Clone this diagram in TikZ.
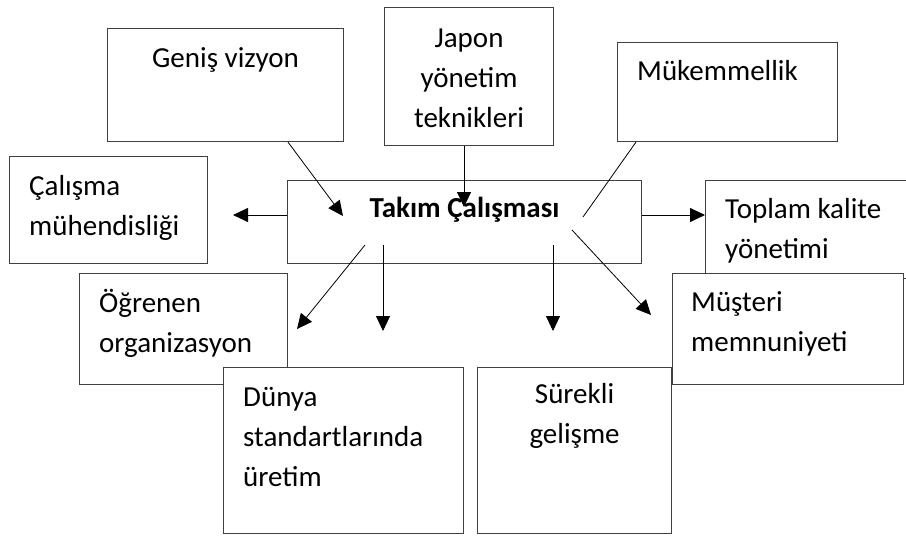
\documentclass[tikz,border=0pt]{standalone}
\usepackage{fontspec}
\setmainfont{Carlito}
\usetikzlibrary{arrows.meta}

\begin{document}
\begin{tikzpicture}[
    x=1pt, y=-1pt,
    kutu/.style={draw=black!75, line width=1.1pt, fill=white, inner sep=0pt, anchor=north west},
    yazi/.style={font=\fontsize{29}{40}\selectfont, inner sep=0pt},
    ok/.style={-{Triangle[length=15pt,width=14pt]}, line width=0.8pt},
    cizgi/.style={line width=0.8pt}
]
\clip (0,0) rectangle (906,538);
\fill[white] (0,0) rectangle (906,538);

\node[kutu, minimum width=236pt, minimum height=113pt] (genis) at (107,28) {};
\node[yazi, anchor=base, yshift=-39pt] (genisYazi) at (genis.north) {Geniş vizyon};

\node[kutu, minimum width=169pt, minimum height=138pt] (japon) at (384,7) {};
\node[yazi, align=center, anchor=base, yshift=-120pt] (japonYazi) at (japon.north) {Japon\\yönetim\\teknikleri};

\node[kutu, minimum width=220pt, minimum height=99pt] (mukemmel) at (617,42) {};
\node[yazi, anchor=base west, xshift=20pt, yshift=-38pt] (mukemmelYazi) at (mukemmel.north west) {Mükemmellik};

\node[kutu, minimum width=198pt, minimum height=107pt] (calisma) at (9,156) {};
\node[yazi, align=left, anchor=base west, xshift=20pt, yshift=-79pt] (calismaYazi) at (calisma.north west) {Çalışma\\mühendisliği};

\node[kutu, minimum width=354pt, minimum height=83pt] (takim) at (287,180) {};
\node[yazi, font=\fontsize{29}{40}\selectfont\bfseries, anchor=base, yshift=-37pt] (takimYazi) at (takim.north) {Takım Çalışması};

\node[kutu, minimum width=207pt, minimum height=98pt] (toplam) at (705,180) {};
\node[yazi, align=left, anchor=base west, xshift=20pt, yshift=-78pt] (toplamYazi) at (toplam.north west) {Toplam kalite\\yönetimi};

\node[kutu, minimum width=231pt, minimum height=111pt] (musteri) at (672,273) {};
\node[yazi, align=left, anchor=base west, xshift=19pt, yshift=-78pt] (musteriYazi) at (musteri.north west) {Müşteri\\memnuniyeti};

\node[kutu, minimum width=208pt, minimum height=111pt] (ogrenen) at (79,273) {};
\node[yazi, align=left, anchor=base west, xshift=20pt, yshift=-79pt] (ogrenenYazi) at (ogrenen.north west) {Öğrenen\\organizasyon};

\node[kutu, minimum width=240pt, minimum height=166pt] (dunya) at (223,367) {};
\node[yazi, align=left, anchor=base west, xshift=20pt, yshift=-119pt] (dunyaYazi) at (dunya.north west) {Dünya\\standartlarında\\üretim};

\node[kutu, minimum width=194pt, minimum height=166pt] (surekli) at (477,367) {};
\node[yazi, align=center, anchor=base, yshift=-76pt] (surekliYazi) at (surekli.north) {Sürekli\\gelişme};

\coordinate (genisUc) at (343,216);
\coordinate (japonUc) at (464,207);
\coordinate (mukemmelUc) at (583,217);
\coordinate (solUc) at (233,215);
\coordinate (sagUc) at (705,215);
\coordinate (ogrenenBas) at (365,245);
\coordinate (ogrenenUc) at (297,329);
\coordinate (dunyaBas) at (383,245);
\coordinate (dunyaUc) at (383,331);
\coordinate (surekliBas) at (553,245);
\coordinate (surekliUc) at (553,331);
\coordinate (musteriBas) at (572,230);
\coordinate (musteriUc) at (651,315);

\draw[ok] ([xshift=181pt]genis.south west) -- (genisUc);
\draw[ok] (japon.south -| japonUc) -- (japonUc);
\draw[cizgi] ([xshift=19pt]mukemmel.south west) -- (mukemmelUc);
\draw[ok] (takim.west |- solUc) -- (solUc);
\draw[ok] (takim.east |- sagUc) -- (toplam.west |- sagUc);
\draw[ok] (ogrenenBas) -- (ogrenenUc);
\draw[ok] (dunyaBas) -- (dunyaUc);
\draw[ok] (surekliBas) -- (surekliUc);
\draw[ok] (musteriBas) -- (musteriUc);
\end{tikzpicture}
\end{document}
